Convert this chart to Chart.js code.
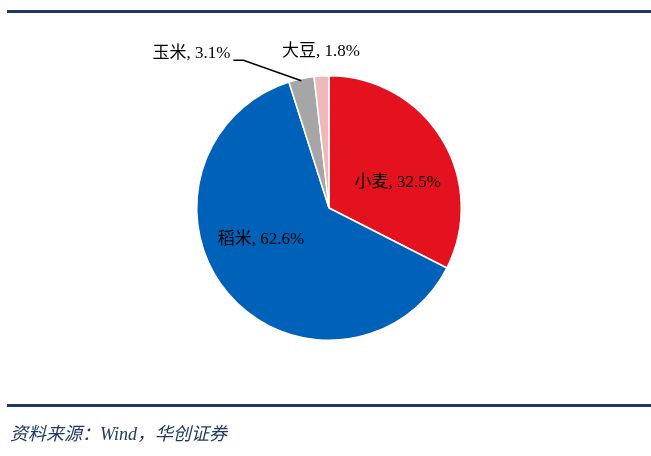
<!DOCTYPE html>
<html>
<head>
<meta charset="utf-8">
<script src="https://cdn.jsdelivr.net/npm/chart.js@4.4.1/dist/chart.umd.min.js"></script>
<style>
  html, body { margin: 0; padding: 0; background: #fff; }
  #wrap { position: relative; width: 651px; height: 456px; overflow: hidden; }
  #myChart { position: absolute; left: 0; top: 0; }
  .rule { position: absolute; left: 7px; right: 0; height: 3px; background: #1f3864; }
  #source {
    position: absolute; left: 10px; top: 419px;
    font-family: "Liberation Serif", "Noto Sans CJK SC", serif;
    font-style: italic; font-size: 18px; color: #1f3864;
  }
</style>
</head>
<body>
<div id="wrap">
  <div class="rule" style="top:10px"></div>
  <canvas id="myChart" width="651" height="456"></canvas>
  <div class="rule" style="top:404px"></div>
  <div id="source">资料来源：Wind，华创证券</div>
</div>
<script>
const labels = ['小麦', '稻米', '玉米', '大豆'];
const shares = [32.5, 62.6, 3.1, 1.8];

const chartColors = {
  red: 'rgb(228, 18, 30)',
  blue: 'rgb(0, 97, 184)',
  grey: 'rgb(166, 166, 166)',
  pink: 'rgb(238, 183, 186)'
};

// where each label sits, relative to the pie centre in units of the radius
const labelSpots = [
  { dx: 0.52, dy: -0.19 },
  { dx: -0.515, dy: 0.24 },
  { dx: -1.04, dy: -1.17, leader: true },
  { dx: -0.06, dy: -1.18 }
];

const sliceLabels = {
  id: 'sliceLabels',
  afterDatasetsDraw(chart) {
    const ctx = chart.ctx;
    const arcs = chart.getDatasetMeta(0).data;
    ctx.save();
    ctx.font = '17px "Liberation Serif", "Noto Sans CJK SC", serif';
    ctx.fillStyle = '#000';
    ctx.textAlign = 'center';
    ctx.textBaseline = 'middle';
    arcs.forEach((arc, i) => {
      const { x, y, outerRadius, startAngle, endAngle } = arc.getProps(['x', 'y', 'outerRadius', 'startAngle', 'endAngle'], true);
      const spot = labelSpots[i];
      const text = labels[i] + ', ' + shares[i].toFixed(1) + '%';
      const lx = x + spot.dx * outerRadius;
      const ly = y + spot.dy * outerRadius;
      ctx.fillText(text, lx, ly);
      if (spot.leader) {
        const w = ctx.measureText(text).width;
        const mid = (startAngle + endAngle) / 2;
        ctx.beginPath();
        ctx.strokeStyle = '#000';
        ctx.lineWidth = 1.5;
        ctx.moveTo(lx + w / 2 + 3, ly + 7);
        ctx.lineTo(lx + w / 2 + 13, ly + 7);
        ctx.lineTo(x + Math.cos(mid) * outerRadius, y + Math.sin(mid) * outerRadius + 2);
        ctx.stroke();
      }
    });
    ctx.restore();
  }
};

var ctx = document.getElementById('myChart').getContext('2d');
var myChart = new Chart(ctx, {
  type: 'pie',
  data: {
    labels: labels,
    datasets: [{
      data: shares,
      backgroundColor: [
        chartColors.red,
        chartColors.blue,
        chartColors.grey,
        chartColors.pink
      ],
      borderColor: '#fff',
      borderWidth: 1.5,
      hoverOffset: 0
    }]
  },
  options: {
    responsive: false,
    animation: false,
    layout: {
      padding: { left: 196, right: 189, top: 75, bottom: 115 }
    },
    plugins: {
      legend: { display: false },
      tooltip: { enabled: false }
    }
  },
  plugins: [sliceLabels]
});
</script>
</body>
</html>
